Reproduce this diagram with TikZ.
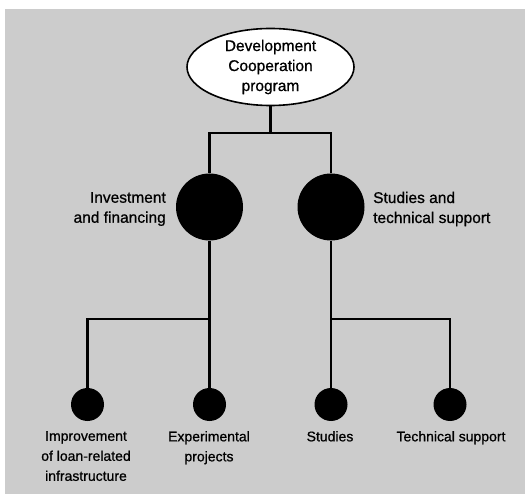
\documentclass[tikz,border=0pt]{standalone}
\usepackage{fontspec}
\setmainfont{Liberation Sans}[FakeBold=0.8]
\usetikzlibrary{shapes.geometric}
\begin{document}
\begin{tikzpicture}[x=1pt,y=-1pt,
  rootbox/.style={ellipse, draw, line width=1.6pt, fill=white,
    minimum width=167pt, minimum height=70pt, inner sep=0pt, align=center,
    font=\fontsize{15.5}{20}\selectfont},
  bigdot/.style={circle, fill=black, minimum size=67pt, inner sep=0pt},
  smalldot/.style={circle, fill=black, minimum size=33pt, inner sep=0pt},
  midlabel/.style={inner sep=0pt, font=\fontsize{15.5}{20}\selectfont},
  leaflabel/.style={inner sep=0pt, anchor=north, align=center,
    font=\fontsize{14}{20}\selectfont},
  link/.style={line width=2.6pt}]
  \useasboundingbox (0,0) rectangle (525,494);
  % speckled paper tone
  \fill[black!20] (5,9) rectangle (525,494);

  % root
  \node[rootbox] (root) at (270.5,67) {Development\\Cooperation\\program};

  % second level
  \node[bigdot] (inv) at (209.5,207) {};
  \node[bigdot] (stu) at (331,207) {};
  \node[midlabel, anchor=east, align=right] (invlab) at (166,209)
    {Investment\\and financing};
  \node[midlabel, anchor=west, align=left] (stulab) at (373,209)
    {Studies and\\technical support};

  % third level
  \node[smalldot] (imp) at (87.5,404.5) {};
  \node[smalldot] (exp) at (209.5,404.5) {};
  \node[smalldot] (std) at (331,404.5) {};
  \node[smalldot] (tec) at (450,404.5) {};

  \node[leaflabel] (implab) at (86,431) {Improvement\\of loan-related\\infrastructure};
  \node[leaflabel] (explab) at (209,431) {Experimental\\projects};
  \node[leaflabel] (stdlab) at (330,431) {Studies};
  \node[leaflabel] (teclab) at (451,431) {Technical support};

  % junctions
  \coordinate (jtop) at (270.5,133);
  \coordinate (jleft) at (209.5,319);
  \coordinate (jright) at (331,319);

  % connectors
  \draw[link] (root.south) -- (jtop);
  \draw[link] (inv.north) |- (jtop) -| (stu.north);
  \draw[link] (inv.south) -- (exp.north);
  \draw[link] (jleft) -| (imp.north);
  \draw[link] (stu.south) -- (std.north);
  \draw[link] (jright) -| (tec.north);
\end{tikzpicture}
\end{document}
